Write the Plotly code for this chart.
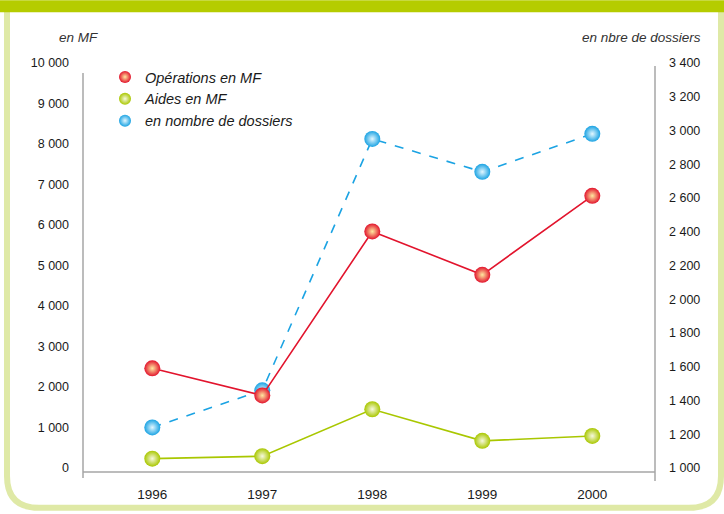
import plotly.graph_objects as go

years = ["1996", "1997", "1998", "1999", "2000"]
operations_mf = [2460, 1790, 5840, 4770, 6720]
aides_mf = [230, 290, 1450, 670, 790]
nb_dossiers = [1240, 1460, 2950, 2755, 2980]

W, H = 724, 514
L, R, T, B = 83, 655, 63, 474  # plot area in px


def px(x):
    return (x - L) / (R - L)


def py(y):
    return (B - y) / (B - T)


def rounded_rect(x0, y0, x1, y1, r):
    # path in paper coords, px inputs
    return (
        f"M {px(x0)},{py(y0)} L {px(x1)},{py(y0)} "
        f"L {px(x1)},{py(y1 - r)} Q {px(x1)},{py(y1)} {px(x1 - r)},{py(y1)} "
        f"L {px(x0 + r)},{py(y1)} Q {px(x0)},{py(y1)} {px(x0)},{py(y1 - r)} Z"
    )


# (name, values, axis, edge colour, centre colour, dash)
# MF series sit on the overlaying axis so they draw above the dossiers line
series = [
    ("Opérations en MF", operations_mf, "y2", "#e2142d", "#ffe9a0", "solid"),
    ("Aides en MF", aides_mf, "y2", "#a9c700", "#f7f9e0", "solid"),
    ("en nombre de dossiers", nb_dossiers, "y", "#1ba3e3", "#e3f7ff", "dash"),
]

fig = go.Figure()
for name, vals, axis, col, center, dash in reversed(series):
    fig.add_trace(go.Scatter(
        x=years, y=vals, yaxis=axis, mode="lines+markers", name=name,
        line=dict(color=col, width=1.6, dash=dash),
        marker=dict(size=16, color=col, line=dict(width=0),
                    gradient=dict(type="radial", color=center)),
        showlegend=False,
    ))
# legend entries: markers only
for name, vals, axis, col, center, dash in series:
    fig.add_trace(go.Scatter(
        x=[None], y=[None], yaxis=axis, mode="markers", name=name,
        marker=dict(size=16, color=col, line=dict(width=0),
                    gradient=dict(type="radial", color=center)),
    ))

gray = "#a6a6a6"
shapes = [
    dict(type="path", xref="paper", yref="paper", layer="below",
         path=rounded_rect(7, 6, 721, 510, 32),
         line=dict(color="#dfe9a6", width=6), fillcolor="white"),
    dict(type="rect", xref="paper", yref="paper", layer="below",
         x0=px(0), x1=px(W), y0=py(0), y1=py(12),
         line=dict(width=0), fillcolor="#b5cc00"),
    dict(type="line", xref="paper", yref="paper", layer="below",
         x0=px(L), x1=px(L), y0=py(73), y1=py(480), line=dict(color=gray, width=1.5)),
    dict(type="line", xref="paper", yref="paper", layer="below",
         x0=px(R), x1=px(R), y0=py(66), y1=py(483), line=dict(color=gray, width=1.5)),
    dict(type="line", xref="paper", yref="paper", layer="below",
         x0=px(L), x1=px(R), y0=py(B), y1=py(B), line=dict(color=gray, width=1.5)),
]

tick_font = dict(family="Liberation Sans, Arial, sans-serif", size=12.5, color="#1a1a1a")
italic = dict(family="Liberation Sans, Arial, sans-serif",
              size=13.5, color="#333333", style="italic")

fig.update_layout(
    width=W, height=H,
    margin=dict(l=L, r=W - R, t=T, b=H - B, pad=0),
    paper_bgcolor="white", plot_bgcolor="rgba(0,0,0,0)",
    separators=", ",
    shapes=shapes,
    xaxis=dict(type="category", range=[-0.63, 4.57], showgrid=False, showline=False,
               zeroline=False, ticks="",
               tickfont=dict(family="Liberation Sans, Arial, sans-serif", size=13.5, color="#1a1a1a"),
               ticklabelstandoff=12),
    yaxis=dict(range=[976, 3400], dtick=200, tickformat=",d", side="right",
               showgrid=False, zeroline=False, showline=False, ticks="", tickfont=tick_font,
               ticklabelstandoff=13),
    yaxis2=dict(range=[-100, 10000], dtick=1000, tickformat=",d", overlaying="y", side="left",
                showgrid=False, zeroline=False, showline=False, ticks="", tickfont=tick_font,
                ticklabelstandoff=13),
    legend=dict(x=px(105), y=py(61), xanchor="left", yanchor="top", bgcolor="rgba(0,0,0,0)",
                font=dict(family="Liberation Sans, Arial, sans-serif", size=14.5,
                          color="#1a1a1a", style="italic"),
                tracegroupgap=0, itemsizing="constant"),
    annotations=[
        dict(text="en MF", xref="paper", yref="paper", x=px(78), y=py(37),
             showarrow=False, font=italic, xanchor="center", yanchor="middle"),
        dict(text="en nbre de dossiers", xref="paper", yref="paper", x=px(703), y=py(37),
             showarrow=False, font=italic, xanchor="right", yanchor="middle"),
    ],
)

fig.write_html("out.html", config={"displayModeBar": False},
               post_script="document.body.style.margin='0';")
